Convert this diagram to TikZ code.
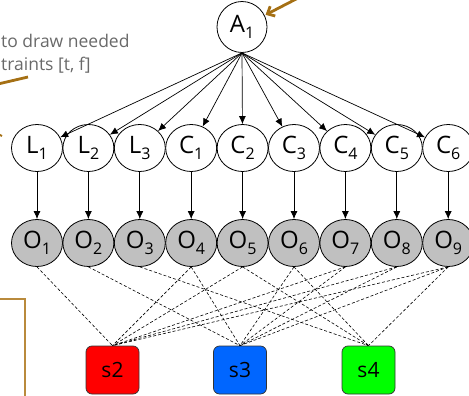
\documentclass[tikz,border=0pt]{standalone}
\usepackage{fontspec}
\setmainfont{Open Sans}
\usetikzlibrary{arrows.meta,shapes.geometric}
\definecolor{brownish}{RGB}{165,112,20}
\definecolor{boxbrown}{RGB}{185,138,60}
\definecolor{ogray}{RGB}{192,192,192}
\definecolor{sred}{RGB}{255,0,0}
\definecolor{sblue}{RGB}{0,102,255}
\definecolor{sgreen}{RGB}{0,255,0}
\definecolor{calltext}{RGB}{105,105,105}
\newcommand\vlab[2]{{\fontsize{24}{24}\selectfont #1\raisebox{-6pt}{\fontsize{16}{16}\selectfont #2}}}
\begin{document}
\begin{tikzpicture}[x=1pt,y=-1pt,
  hid/.style={draw, ellipse, minimum width=51pt, minimum height=47pt, inner sep=0pt, line width=0.8pt, fill=white},
  obs/.style={hid, fill=ogray},
  sbox/.style={draw=black!80, rounded corners=6pt, minimum width=53pt, minimum height=48pt, inner sep=0pt, line width=0.7pt, font=\fontsize{21}{21}\selectfont},
  arr/.style={-{Latex[length=8pt,width=7pt]}, line width=0.7pt},
  dsh/.style={dash pattern=on 3pt off 2pt, line width=0.6pt, black},
  brw/.style={brownish, line width=2.8pt},
  calltxt/.style={text=calltext, font=\fontsize{17.5}{17.5}\selectfont, inner sep=0pt}
]
\useasboundingbox (0,0) rectangle (469,396);
\clip (0,0) rectangle (469,396);
% callout remnants
\node[calltxt, anchor=base west] (t1) at (1,48) {to draw needed};
\node[calltxt, anchor=base west] (t2) at (1,71) {traints [t, f]};
\coordinate (bl1) at (-2,84);
\coordinate (bl2) at (28,77);
\draw[brw] (bl1) -- (bl2);
\coordinate (bm1) at (-4,133);
\coordinate (bm2) at (2,136);
\draw[brownish, line width=2pt] (bm1) -- (bm2);
\coordinate (rb1) at (-5,299);
\coordinate (rb2) at (25,299);
\coordinate (rb3) at (25,400);
\draw[boxbrown, line width=1.8pt] (rb1) -- (rb2) -- (rb3);
% nodes
\node[hid, minimum width=50pt, minimum height=51pt] (A1) at (242,27) {\vlab{A}{1}};
\foreach \i/\l/\n in {1/L/1,2/L/2,3/L/3,4/C/1,5/C/2,6/C/3,7/C/4,8/C/5,9/C/6}{
  \node[hid] (T\i) at ({37+51.4*(\i-1)},148) {\vlab{\l}{\n}};
  \node[obs] (O\i) at ({37+51.4*(\i-1)},243) {\vlab{O}{\i}};
}
\node[sbox, fill=sred] (s2) at (112.5,370) {s2};
\node[sbox, fill=sblue] (s3) at (240,370) {s3};
\node[sbox, fill=sgreen] (s4) at (368.5,370) {s4};
% arrows
\foreach \i in {1,...,9}{
  \draw[arr] (A1.south) -- (T\i);
  \draw[arr] (T\i) -- (O\i);
}
\foreach \o/\s in {1/2,4/2,5/2,7/2,8/2,9/2,2/3,4/3,6/3,7/3,8/3,9/3,3/4,5/4,6/4,9/4}{
  \draw[dsh] (O\o.south) -- (s\s.north);
}
% brown pointer to A1
\coordinate (bA) at (302,-4);
\draw[brw, -{Straight Barb[length=6pt,width=11pt]}, shorten >=1pt] (bA) -- (A1);
\end{tikzpicture}
\end{document}
